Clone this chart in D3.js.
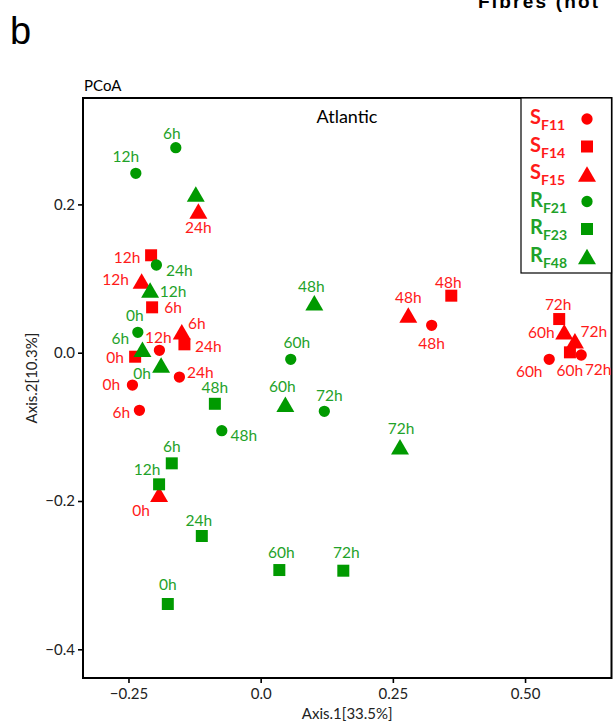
<!DOCTYPE html>
<html>
<head>
<meta charset="utf-8">
<script src="https://cdn.jsdelivr.net/npm/d3@7"></script>
<style>
  html, body { margin: 0; padding: 0; background: #fff; }
  svg { display: block; font-family: Lato, "Open Sans", sans-serif; }
</style>
</head>
<body>
<script>
// Sampling times shared by every series
const times = ["0h", "6h", "12h", "24h", "48h", "60h", "72h"];

// PCoA coordinates (Axis.1, Axis.2) per sample series
const SF11_x = [-0.2425, -0.2293, -0.1915, -0.1537, 0.3234, 0.5457, 0.6062];
const SF11_y = [-0.0436, -0.0777, 0.0032, -0.0328, 0.0370, -0.0089, -0.0031];
const SF14_x = [-0.2374, -0.2053, -0.2072, -0.1442, 0.3605, 0.5849, 0.5646];
const SF14_y = [-0.0054, 0.0612, 0.1314, 0.0113, 0.0769, 0.0005, 0.0454];
const SF15_x = [-0.1921, -0.1492, -0.2251, -0.1178, 0.2792, 0.5741, 0.5943];
const SF15_y = [-0.1910, 0.0283, 0.0967, 0.1911, 0.0508, 0.0283, 0.0162];
const RF21_x = [-0.2323, -0.1605, -0.2361, -0.1972, -0.0735, 0.0569, 0.1204];
const RF21_y = [0.0275, 0.2765, 0.2419, 0.1183, -0.1052, -0.0089, -0.0790];
const RF23_x = [-0.1756, -0.1681, -0.1921, -0.1113, -0.0866, 0.0353, 0.1563];
const RF23_y = [-0.3389, -0.1492, -0.1775, -0.2472, -0.0689, -0.2931, -0.2940];
const RF48_x = [-0.1883, -0.2236, -0.2091, -0.1227, 0.1015, 0.0467, 0.2635];
const RF48_y = [-0.0166, 0.0046, 0.0846, 0.2140, 0.0674, -0.0696, -0.1268];

// Axis ticks
const xTicks = [-0.25, 0.0, 0.25, 0.50];
const yTicks = [-0.4, -0.2, 0.0, 0.2];

// Series definitions: name parts, colour group, symbol
const seriesDefs = [
  { key: "SF11", main: "S", sub: "F11", group: "S", shape: "circle",   xs: SF11_x, ys: SF11_y },
  { key: "SF14", main: "S", sub: "F14", group: "S", shape: "square",   xs: SF14_x, ys: SF14_y },
  { key: "SF15", main: "S", sub: "F15", group: "S", shape: "triangle", xs: SF15_x, ys: SF15_y },
  { key: "RF21", main: "R", sub: "F21", group: "R", shape: "circle",   xs: RF21_x, ys: RF21_y },
  { key: "RF23", main: "R", sub: "F23", group: "R", shape: "square",   xs: RF23_x, ys: RF23_y },
  { key: "RF48", main: "R", sub: "F48", group: "R", shape: "triangle", xs: RF48_x, ys: RF48_y }
];

// Label placement (pixel nudge of each time label from its point); null = no label
const labelNudge = {
  SF11: [[-21,-1],[-18,2],[-1,-13],[21,-5],[0,18],[-20,12],[17,14]],
  SF14: [[-20,0],[21,0],[-24,2],[24,2],[-3,-14],[0,18],[-1,-15]],
  SF15: [[-18,16],[15,-9],[-26,-2],[0,16],[0,-18],[-23,0],[19,-10]],
  RF21: [[-3,-17],[-4,-15],[-10,-17],[23,5],[22,4],[6,-17],[5,-16]],
  RF23: [[0,-20],[0,-17],[-12,-15],[-3,-16],[0,-17],[2,-18],[3,-19]],
  RF48: [[-19,8],[-22,-11],[23,1],null,[-3,-17],[-3,-18],[1,-19]]
};

const markColor = { S: "#ff0000", R: "#009a00" };
const textColor = { S: "#ff1a1a", R: "#1fa22a" };

const W = 613, H = 725;
const frame = { left: 83, right: 611.5, top: 98, bottom: 678 };

const svg = d3.select("body").append("svg")
  .attr("width", W).attr("height", H);

const x = d3.scaleLinear().domain([-0.336, 0.6635]).range([frame.left, frame.right]);
const y = d3.scaleLinear().domain([-0.4387, 0.3435]).range([frame.bottom, frame.top]);

// Panel letter and heading running off the top edge
svg.append("text").attr("x", 10).attr("y", 44)
  .attr("font-family", "Liberation Sans, Arial, sans-serif")
  .attr("font-size", 38).attr("fill", "#000").text("b");
svg.append("text").attr("x", 478).attr("y", 8)
  .attr("font-family", "Liberation Sans, Arial, sans-serif")
  .attr("font-weight", "bold").attr("font-size", 19)
  .attr("letter-spacing", 2.2).attr("fill", "#000").text("Fibres (not");

svg.append("text").attr("x", 84).attr("y", 91)
  .attr("font-size", 15).attr("fill", "#000").text("PCoA");

// Axes
const xAxis = d3.axisBottom(x).tickValues(xTicks).tickSize(5).tickPadding(5)
  .tickFormat(d => d === 0 ? "0.0" : d3.format(".2f")(d));
const yAxis = d3.axisLeft(y).tickValues(yTicks).tickSize(5).tickPadding(3)
  .tickFormat(d3.format(".1f"));

const gx = svg.append("g").attr("transform", `translate(0,${frame.bottom})`).call(xAxis);
const gy = svg.append("g").attr("transform", `translate(${frame.left},0)`).call(yAxis);
[gx, gy].forEach(g => {
  g.select(".domain").remove();
  g.selectAll(".tick line").attr("stroke", "#000").attr("stroke-width", 1.6);
  g.selectAll(".tick text").attr("fill", "#222").attr("font-size", 15)
    .attr("font-family", "Lato, sans-serif");
});

svg.append("text")
  .attr("x", (frame.left + frame.right) / 2).attr("y", 719)
  .attr("text-anchor", "middle").attr("font-size", 15).attr("fill", "#222")
  .text("Axis.1[33.5%]");
svg.append("text")
  .attr("transform", `translate(37,${378}) rotate(-90)`)
  .attr("text-anchor", "middle").attr("font-size", 15).attr("fill", "#222")
  .text("Axis.2[10.3%]");

// Plot frame
svg.append("rect")
  .attr("x", frame.left).attr("y", frame.top)
  .attr("width", frame.right - frame.left).attr("height", frame.bottom - frame.top)
  .attr("fill", "none").attr("stroke", "#000").attr("stroke-width", 2);

svg.append("text")
  .attr("x", 347).attr("y", 123).attr("text-anchor", "middle")
  .attr("font-size", 18).attr("fill", "#000").text("Atlantic");

// Marker generators (triangles shifted so their box, not centroid, sits on the point)
const symbolPath = {
  circle: d3.symbol().type(d3.symbolCircle).size(100)(),
  square: d3.symbol().type(d3.symbolSquare).size(144)(),
  triangle: d3.symbol().type(d3.symbolTriangle).size(140)()
};
const symbolShift = { circle: 0, square: 0, triangle: 2.6 };

const plot = svg.append("g");

// Red series first, green ones drawn over them
seriesDefs.forEach(s => {
  const pts = times.map((t, i) => ({ t, px: x(s.xs[i]), py: y(s.ys[i]), nudge: labelNudge[s.key][i] }));
  const g = plot.append("g").attr("class", "series-" + s.key);
  g.selectAll("path").data(pts).join("path")
    .attr("d", symbolPath[s.shape])
    .attr("transform", d => `translate(${d.px},${d.py + symbolShift[s.shape]})`)
    .attr("fill", markColor[s.group]);
  g.selectAll("text").data(pts.filter(d => d.nudge)).join("text")
    .attr("x", d => d.px + d.nudge[0])
    .attr("y", d => d.py + d.nudge[1])
    .attr("text-anchor", "middle").attr("dominant-baseline", "central")
    .attr("font-size", 15.5).attr("fill", textColor[s.group])
    .text(d => d.t);
});

// Legend
const legend = svg.append("g");
legend.append("rect")
  .attr("x", 521).attr("y", frame.top).attr("width", frame.right - 521).attr("height", 175)
  .attr("fill", "#fff").attr("stroke", "#000").attr("stroke-width", 1.2);
seriesDefs.forEach((s, i) => {
  const cy = 119 + i * 27.5;
  const t = legend.append("text").attr("x", 530).attr("y", cy + 5)
    .attr("fill", textColor[s.group]).attr("font-weight", "bold");
  t.append("tspan").attr("font-size", 20).text(s.main);
  t.append("tspan").attr("font-size", 14).attr("dy", 6).text(s.sub);
  legend.append("path")
    .attr("d", symbolPath[s.shape])
    .attr("transform", `translate(587,${cy + symbolShift[s.shape]})`)
    .attr("fill", markColor[s.group]);
});
</script>
</body>
</html>
